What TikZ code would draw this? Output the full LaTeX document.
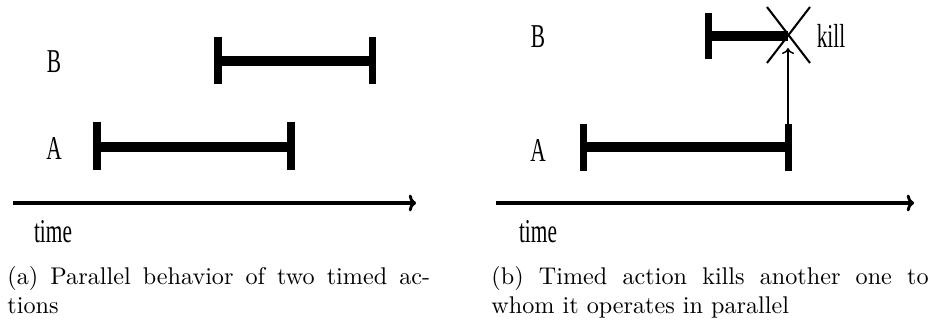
\documentclass[tikz,border=0pt]{standalone}
\usepackage{fontspec}
\newfontfamily\lblfont{Liberation Serif}
\usetikzlibrary{arrows.meta}
\tikzset{
  lab/.style={font=\lblfont\fontsize{13.8}{16}\selectfont, inner sep=0pt},
  barline/.style={line width=3.9pt},
  tickline/.style={line width=2.9pt},
  axisline/.style={line width=1.45pt, -{To[length=3pt,width=7pt,line width=1.2pt]}},
  crossline/.style={line width=0.85pt},
  killarrow/.style={line width=0.6pt, -{To[length=2.5pt,width=5pt]}},
  captext/.style={font=\fontsize{10}{12}\selectfont, inner sep=0pt, anchor=base west}
}
\newcommand{\cond}[1]{\scalebox{0.64}[1]{#1}}
\begin{document}
\begin{tikzpicture}[x=0.414pt,y=-0.414pt]
\useasboundingbox (0,0) rectangle (932,322);
% ---------- panel (a) ----------
\node[lab] (aBl) at (54,62) {\cond{B}};
\node[lab] (aAl) at (54,148) {\cond{A}};
\node[lab] (aTl) at (53,232) {\cond{time}};
\coordinate (aB1) at (218,61); \coordinate (aB2) at (372,61);
\coordinate (aB1t) at (218,37); \coordinate (aB1b) at (218,84);
\coordinate (aB2t) at (372,37); \coordinate (aB2b) at (372,84);
\draw[barline] (aB1) -- (aB2);
\draw[tickline] (aB1t) -- (aB1b);
\draw[tickline] (aB2t) -- (aB2b);
\coordinate (aA1) at (97,147); \coordinate (aA2) at (291,147);
\coordinate (aA1t) at (97,122); \coordinate (aA1b) at (97,170);
\coordinate (aA2t) at (291,122); \coordinate (aA2b) at (291,170);
\draw[barline] (aA1) -- (aA2);
\draw[tickline] (aA1t) -- (aA1b);
\draw[tickline] (aA2t) -- (aA2b);
\coordinate (aX0) at (13,203); \coordinate (aX1) at (416,203);
\draw[axisline] (aX0) -- (aX1);
\node[captext] (capa1) at (7,284) {\makebox[175pt][s]{(a) Parallel behavior of two timed ac-}};
\node[captext] (capa2) at (7,313) {tions};
% ---------- panel (b) ----------
\node[lab] (bBl) at (538,37) {\cond{B}};
\node[lab] (bAl) at (538,150) {\cond{A}};
\node[lab] (bTl) at (538,232) {\cond{time}};
\node[lab] (bKl) at (831,36) {\cond{kill}};
\coordinate (bB1) at (708,36); \coordinate (bB2) at (788,36);
\coordinate (bB1t) at (708,13); \coordinate (bB1b) at (708,59);
\draw[barline] (bB1) -- (bB2);
\draw[tickline] (bB1t) -- (bB1b);
\coordinate (bC1) at (767,7); \coordinate (bC2) at (810,63);
\coordinate (bC3) at (810,7); \coordinate (bC4) at (767,63);
\draw[crossline] (bC1) -- (bC2);
\draw[crossline] (bC3) -- (bC4);
\coordinate (bA1) at (583,147); \coordinate (bA2) at (788,147);
\coordinate (bA1t) at (583,124); \coordinate (bA1b) at (583,171);
\coordinate (bA2t) at (788,124); \coordinate (bA2b) at (788,171);
\draw[barline] (bA1) -- (bA2);
\draw[tickline] (bA1t) -- (bA1b);
\draw[tickline] (bA2t) -- (bA2b);
\coordinate (bArr) at (788,48);
\draw[killarrow] (bA2t) -- (bArr);
\coordinate (bX0) at (496,203); \coordinate (bX1) at (914,203);
\draw[axisline] (bX0) -- (bX1);
\node[captext] (capb1) at (491,284) {\makebox[181pt][s]{(b) Timed action kills another one to}};
\node[captext] (capb2) at (491,313) {whom it operates in parallel};
\end{tikzpicture}
\end{document}
